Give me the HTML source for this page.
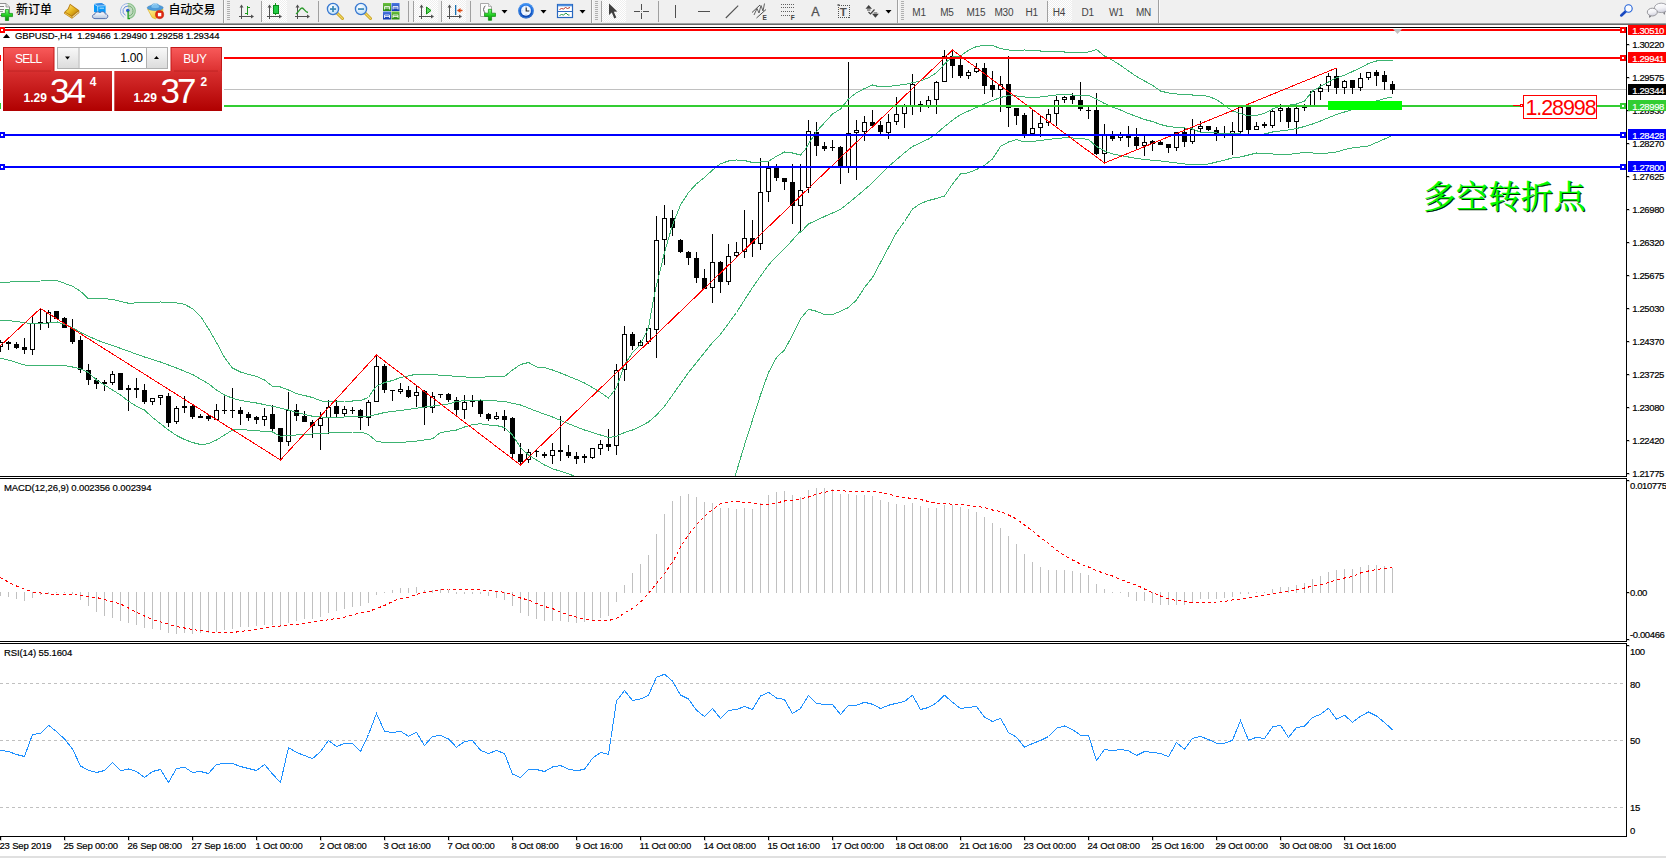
<!DOCTYPE html><html><head><meta charset="utf-8"><title>GBPUSD H4</title><style>

html,body{margin:0;padding:0;background:#fff}
body{width:1666px;height:858px;position:relative;overflow:hidden;font-family:"Liberation Sans","Noto Sans CJK SC",sans-serif}
#tb{position:absolute;left:0;top:0;width:1666px;height:23px;background:#f0f0f0}
#tb .b1{position:absolute;left:0;top:23px;width:1666px;height:1px;background:#a0a0a0}
#tb .b2{position:absolute;left:0;top:24px;width:1666px;height:1px;background:#696969}
.tt{position:absolute;top:2.6px;font-size:12px;line-height:15px;color:#000;white-space:nowrap;font-weight:500}
.tf{position:absolute;top:5.6px;font-size:10px;line-height:13px;color:#444;white-space:nowrap;letter-spacing:-0.25px}
.sep{position:absolute;top:1px;width:1px;height:21px;background:#a0a0a0}
.grip{position:absolute;top:2px;width:3px;height:19px;background:repeating-linear-gradient(#f0f0f0 0,#f0f0f0 1px,#b4b4b4 1px,#b4b4b4 2px)}
.pr{position:absolute;top:0;height:22px;background:#f8f8f8;background-image:repeating-conic-gradient(#fff 0 25%,#ececec 0 50%);background-size:2px 2px}
#oc{position:absolute;left:1px;top:33px;width:223px;height:79px;background:#fff}
#oc .ttl{position:absolute;left:14px;top:-3.7px;font-size:9.5px;line-height:14px;letter-spacing:-0.1px;color:#000;white-space:pre;-webkit-text-stroke:0.18px #000}
.rb{position:absolute;color:#fff}

</style></head><body>
<svg width="1666" height="858" viewBox="0 0 1666 858" style="position:absolute;left:0;top:0" font-family='"Liberation Sans", sans-serif'>
<defs><clipPath id="cm"><rect x="0" y="28" width="1626" height="448"/></clipPath><clipPath id="cmacd"><rect x="0" y="479" width="1626" height="162"/></clipPath><clipPath id="crsi"><rect x="0" y="644" width="1626" height="192"/></clipPath></defs>
<g shape-rendering="crispEdges" fill="#000">
<rect x="0" y="27" width="1627" height="1"/>
<rect x="1626" y="27" width="1" height="450"/>
<rect x="0" y="476" width="1627" height="1"/>
<rect x="0" y="478" width="1627" height="1"/>
<rect x="1626" y="478" width="1" height="164"/>
<rect x="0" y="641" width="1627" height="1"/>
<rect x="0" y="643" width="1627" height="1"/>
<rect x="1626" y="643" width="1" height="194"/>
<rect x="0" y="836" width="1627" height="1"/>
</g>
<rect x="0" y="89" width="1626" height="1" fill="#c0c0c0" shape-rendering="crispEdges"/>
<g clip-path="url(#cm)" shape-rendering="crispEdges">
<rect x="0" y="340" width="1" height="12" fill="#000"/>
<rect x="-2" y="342" width="5" height="5" fill="#000"/>
<rect x="-1" y="343" width="3" height="3" fill="#fff"/>
<rect x="8" y="341" width="1" height="9" fill="#000"/>
<rect x="6" y="342" width="5" height="2" fill="#000"/>
<rect x="16" y="342" width="1" height="7" fill="#000"/>
<rect x="14" y="344" width="5" height="4" fill="#000"/>
<rect x="24" y="338" width="1" height="16" fill="#000"/>
<rect x="22" y="347" width="5" height="3" fill="#000"/>
<rect x="32" y="315" width="1" height="40" fill="#000"/>
<rect x="30" y="323" width="5" height="27" fill="#000"/>
<rect x="31" y="324" width="3" height="25" fill="#fff"/>
<rect x="40" y="309" width="1" height="21" fill="#000"/>
<rect x="38" y="322" width="5" height="2" fill="#000"/>
<rect x="48" y="310" width="1" height="18" fill="#000"/>
<rect x="46" y="312" width="5" height="11" fill="#000"/>
<rect x="47" y="313" width="3" height="9" fill="#fff"/>
<rect x="56" y="311" width="1" height="8" fill="#000"/>
<rect x="54" y="311" width="5" height="8" fill="#000"/>
<rect x="64" y="317" width="1" height="11" fill="#000"/>
<rect x="62" y="318" width="5" height="10" fill="#000"/>
<rect x="72" y="319" width="1" height="25" fill="#000"/>
<rect x="70" y="328" width="5" height="14" fill="#000"/>
<rect x="80" y="336" width="1" height="37" fill="#000"/>
<rect x="78" y="340" width="5" height="30" fill="#000"/>
<rect x="88" y="364" width="1" height="21" fill="#000"/>
<rect x="86" y="370" width="5" height="10" fill="#000"/>
<rect x="96" y="378" width="1" height="11" fill="#000"/>
<rect x="94" y="380" width="5" height="4" fill="#000"/>
<rect x="104" y="380" width="1" height="11" fill="#000"/>
<rect x="102" y="382" width="5" height="2" fill="#000"/>
<rect x="112" y="371" width="1" height="14" fill="#000"/>
<rect x="110" y="374" width="5" height="9" fill="#000"/>
<rect x="111" y="375" width="3" height="7" fill="#fff"/>
<rect x="120" y="373" width="1" height="17" fill="#000"/>
<rect x="118" y="373" width="5" height="17" fill="#000"/>
<rect x="128" y="385" width="1" height="26" fill="#000"/>
<rect x="126" y="388" width="5" height="2" fill="#000"/>
<rect x="136" y="378" width="1" height="20" fill="#000"/>
<rect x="134" y="388" width="5" height="2" fill="#000"/>
<rect x="144" y="384" width="1" height="20" fill="#000"/>
<rect x="142" y="390" width="5" height="12" fill="#000"/>
<rect x="152" y="398" width="1" height="7" fill="#000"/>
<rect x="150" y="398" width="5" height="4" fill="#000"/>
<rect x="151" y="399" width="3" height="2" fill="#fff"/>
<rect x="160" y="395" width="1" height="10" fill="#000"/>
<rect x="158" y="395" width="5" height="3" fill="#000"/>
<rect x="159" y="396" width="3" height="1" fill="#fff"/>
<rect x="168" y="393" width="1" height="34" fill="#000"/>
<rect x="166" y="396" width="5" height="27" fill="#000"/>
<rect x="176" y="406" width="1" height="18" fill="#000"/>
<rect x="174" y="408" width="5" height="14" fill="#000"/>
<rect x="175" y="409" width="3" height="12" fill="#fff"/>
<rect x="184" y="396" width="1" height="17" fill="#000"/>
<rect x="182" y="406" width="5" height="2" fill="#000"/>
<rect x="192" y="404" width="1" height="15" fill="#000"/>
<rect x="190" y="406" width="5" height="11" fill="#000"/>
<rect x="200" y="414" width="1" height="4" fill="#000"/>
<rect x="198" y="416" width="5" height="2" fill="#000"/>
<rect x="208" y="415" width="1" height="6" fill="#000"/>
<rect x="206" y="416" width="5" height="3" fill="#000"/>
<rect x="216" y="404" width="1" height="16" fill="#000"/>
<rect x="214" y="410" width="5" height="10" fill="#000"/>
<rect x="215" y="411" width="3" height="8" fill="#fff"/>
<rect x="224" y="396" width="1" height="18" fill="#000"/>
<rect x="222" y="410" width="5" height="1" fill="#000"/>
<rect x="232" y="388" width="1" height="30" fill="#000"/>
<rect x="230" y="410" width="5" height="1" fill="#000"/>
<rect x="240" y="407" width="1" height="18" fill="#000"/>
<rect x="238" y="410" width="5" height="4" fill="#000"/>
<rect x="248" y="412" width="1" height="9" fill="#000"/>
<rect x="246" y="414" width="5" height="4" fill="#000"/>
<rect x="256" y="416" width="1" height="8" fill="#000"/>
<rect x="254" y="417" width="5" height="3" fill="#000"/>
<rect x="264" y="408" width="1" height="18" fill="#000"/>
<rect x="262" y="416" width="5" height="4" fill="#000"/>
<rect x="263" y="417" width="3" height="2" fill="#fff"/>
<rect x="272" y="405" width="1" height="27" fill="#000"/>
<rect x="270" y="414" width="5" height="15" fill="#000"/>
<rect x="280" y="428" width="1" height="32" fill="#000"/>
<rect x="278" y="428" width="5" height="14" fill="#000"/>
<rect x="288" y="392" width="1" height="54" fill="#000"/>
<rect x="286" y="410" width="5" height="32" fill="#000"/>
<rect x="287" y="411" width="3" height="30" fill="#fff"/>
<rect x="296" y="404" width="1" height="17" fill="#000"/>
<rect x="294" y="410" width="5" height="6" fill="#000"/>
<rect x="304" y="411" width="1" height="11" fill="#000"/>
<rect x="302" y="416" width="5" height="6" fill="#000"/>
<rect x="312" y="420" width="1" height="18" fill="#000"/>
<rect x="310" y="422" width="5" height="4" fill="#000"/>
<rect x="320" y="412" width="1" height="38" fill="#000"/>
<rect x="318" y="418" width="5" height="8" fill="#000"/>
<rect x="319" y="419" width="3" height="6" fill="#fff"/>
<rect x="328" y="400" width="1" height="34" fill="#000"/>
<rect x="326" y="407" width="5" height="11" fill="#000"/>
<rect x="327" y="408" width="3" height="9" fill="#fff"/>
<rect x="336" y="400" width="1" height="18" fill="#000"/>
<rect x="334" y="406" width="5" height="8" fill="#000"/>
<rect x="344" y="406" width="1" height="10" fill="#000"/>
<rect x="342" y="409" width="5" height="5" fill="#000"/>
<rect x="343" y="410" width="3" height="3" fill="#fff"/>
<rect x="352" y="407" width="1" height="7" fill="#000"/>
<rect x="350" y="410" width="5" height="1" fill="#000"/>
<rect x="360" y="409" width="1" height="21" fill="#000"/>
<rect x="358" y="410" width="5" height="8" fill="#000"/>
<rect x="368" y="400" width="1" height="26" fill="#000"/>
<rect x="366" y="402" width="5" height="16" fill="#000"/>
<rect x="367" y="403" width="3" height="14" fill="#fff"/>
<rect x="376" y="355" width="1" height="47" fill="#000"/>
<rect x="374" y="366" width="5" height="36" fill="#000"/>
<rect x="375" y="367" width="3" height="34" fill="#fff"/>
<rect x="384" y="364" width="1" height="29" fill="#000"/>
<rect x="382" y="366" width="5" height="24" fill="#000"/>
<rect x="392" y="390" width="1" height="11" fill="#000"/>
<rect x="390" y="390" width="5" height="1" fill="#000"/>
<rect x="400" y="383" width="1" height="11" fill="#000"/>
<rect x="398" y="389" width="5" height="3" fill="#000"/>
<rect x="399" y="390" width="3" height="1" fill="#fff"/>
<rect x="408" y="386" width="1" height="12" fill="#000"/>
<rect x="406" y="390" width="5" height="7" fill="#000"/>
<rect x="416" y="386" width="1" height="21" fill="#000"/>
<rect x="414" y="392" width="5" height="4" fill="#000"/>
<rect x="415" y="393" width="3" height="2" fill="#fff"/>
<rect x="424" y="390" width="1" height="35" fill="#000"/>
<rect x="422" y="391" width="5" height="17" fill="#000"/>
<rect x="432" y="392" width="1" height="21" fill="#000"/>
<rect x="430" y="396" width="5" height="12" fill="#000"/>
<rect x="431" y="397" width="3" height="10" fill="#fff"/>
<rect x="440" y="394" width="1" height="4" fill="#000"/>
<rect x="438" y="394" width="5" height="1" fill="#000"/>
<rect x="448" y="393" width="1" height="9" fill="#000"/>
<rect x="446" y="394" width="5" height="6" fill="#000"/>
<rect x="456" y="397" width="1" height="19" fill="#000"/>
<rect x="454" y="400" width="5" height="10" fill="#000"/>
<rect x="464" y="395" width="1" height="24" fill="#000"/>
<rect x="462" y="402" width="5" height="8" fill="#000"/>
<rect x="463" y="403" width="3" height="6" fill="#fff"/>
<rect x="472" y="395" width="1" height="12" fill="#000"/>
<rect x="470" y="400" width="5" height="2" fill="#000"/>
<rect x="480" y="400" width="1" height="17" fill="#000"/>
<rect x="478" y="401" width="5" height="13" fill="#000"/>
<rect x="488" y="413" width="1" height="8" fill="#000"/>
<rect x="486" y="414" width="5" height="5" fill="#000"/>
<rect x="496" y="412" width="1" height="8" fill="#000"/>
<rect x="494" y="416" width="5" height="3" fill="#000"/>
<rect x="495" y="417" width="3" height="1" fill="#fff"/>
<rect x="504" y="410" width="1" height="21" fill="#000"/>
<rect x="502" y="416" width="5" height="4" fill="#000"/>
<rect x="512" y="417" width="1" height="43" fill="#000"/>
<rect x="510" y="418" width="5" height="36" fill="#000"/>
<rect x="520" y="443" width="1" height="23" fill="#000"/>
<rect x="518" y="454" width="5" height="8" fill="#000"/>
<rect x="528" y="449" width="1" height="14" fill="#000"/>
<rect x="526" y="452" width="5" height="8" fill="#000"/>
<rect x="527" y="453" width="3" height="6" fill="#fff"/>
<rect x="536" y="450" width="1" height="7" fill="#000"/>
<rect x="534" y="451" width="5" height="1" fill="#000"/>
<rect x="544" y="452" width="1" height="6" fill="#000"/>
<rect x="542" y="454" width="5" height="2" fill="#000"/>
<rect x="552" y="443" width="1" height="21" fill="#000"/>
<rect x="550" y="450" width="5" height="6" fill="#000"/>
<rect x="551" y="451" width="3" height="4" fill="#fff"/>
<rect x="560" y="416" width="1" height="45" fill="#000"/>
<rect x="558" y="450" width="5" height="2" fill="#000"/>
<rect x="568" y="445" width="1" height="13" fill="#000"/>
<rect x="566" y="452" width="5" height="4" fill="#000"/>
<rect x="576" y="452" width="1" height="12" fill="#000"/>
<rect x="574" y="456" width="5" height="3" fill="#000"/>
<rect x="584" y="454" width="1" height="9" fill="#000"/>
<rect x="582" y="456" width="5" height="2" fill="#000"/>
<rect x="592" y="448" width="1" height="11" fill="#000"/>
<rect x="590" y="448" width="5" height="10" fill="#000"/>
<rect x="591" y="449" width="3" height="8" fill="#fff"/>
<rect x="600" y="440" width="1" height="15" fill="#000"/>
<rect x="598" y="444" width="5" height="5" fill="#000"/>
<rect x="599" y="445" width="3" height="3" fill="#fff"/>
<rect x="608" y="429" width="1" height="22" fill="#000"/>
<rect x="606" y="444" width="5" height="3" fill="#000"/>
<rect x="616" y="364" width="1" height="91" fill="#000"/>
<rect x="614" y="370" width="5" height="76" fill="#000"/>
<rect x="615" y="371" width="3" height="74" fill="#fff"/>
<rect x="624" y="326" width="1" height="55" fill="#000"/>
<rect x="622" y="334" width="5" height="36" fill="#000"/>
<rect x="623" y="335" width="3" height="34" fill="#fff"/>
<rect x="632" y="332" width="1" height="18" fill="#000"/>
<rect x="630" y="334" width="5" height="12" fill="#000"/>
<rect x="640" y="340" width="1" height="6" fill="#000"/>
<rect x="638" y="342" width="5" height="4" fill="#000"/>
<rect x="639" y="343" width="3" height="2" fill="#fff"/>
<rect x="648" y="328" width="1" height="16" fill="#000"/>
<rect x="646" y="328" width="5" height="14" fill="#000"/>
<rect x="647" y="329" width="3" height="12" fill="#fff"/>
<rect x="656" y="216" width="1" height="142" fill="#000"/>
<rect x="654" y="240" width="5" height="90" fill="#000"/>
<rect x="655" y="241" width="3" height="88" fill="#fff"/>
<rect x="664" y="205" width="1" height="60" fill="#000"/>
<rect x="662" y="218" width="5" height="22" fill="#000"/>
<rect x="663" y="219" width="3" height="20" fill="#fff"/>
<rect x="672" y="210" width="1" height="26" fill="#000"/>
<rect x="670" y="218" width="5" height="10" fill="#000"/>
<rect x="680" y="239" width="1" height="14" fill="#000"/>
<rect x="678" y="240" width="5" height="12" fill="#000"/>
<rect x="688" y="251" width="1" height="14" fill="#000"/>
<rect x="686" y="252" width="5" height="6" fill="#000"/>
<rect x="696" y="252" width="1" height="31" fill="#000"/>
<rect x="694" y="258" width="5" height="20" fill="#000"/>
<rect x="704" y="269" width="1" height="20" fill="#000"/>
<rect x="702" y="278" width="5" height="11" fill="#000"/>
<rect x="712" y="234" width="1" height="69" fill="#000"/>
<rect x="710" y="262" width="5" height="26" fill="#000"/>
<rect x="711" y="263" width="3" height="24" fill="#fff"/>
<rect x="720" y="261" width="1" height="32" fill="#000"/>
<rect x="718" y="262" width="5" height="20" fill="#000"/>
<rect x="728" y="244" width="1" height="41" fill="#000"/>
<rect x="726" y="256" width="5" height="26" fill="#000"/>
<rect x="727" y="257" width="3" height="24" fill="#fff"/>
<rect x="736" y="242" width="1" height="16" fill="#000"/>
<rect x="734" y="252" width="5" height="4" fill="#000"/>
<rect x="735" y="253" width="3" height="2" fill="#fff"/>
<rect x="744" y="210" width="1" height="48" fill="#000"/>
<rect x="742" y="238" width="5" height="14" fill="#000"/>
<rect x="743" y="239" width="3" height="12" fill="#fff"/>
<rect x="752" y="220" width="1" height="37" fill="#000"/>
<rect x="750" y="238" width="5" height="6" fill="#000"/>
<rect x="760" y="158" width="1" height="92" fill="#000"/>
<rect x="758" y="192" width="5" height="52" fill="#000"/>
<rect x="759" y="193" width="3" height="50" fill="#fff"/>
<rect x="768" y="162" width="1" height="40" fill="#000"/>
<rect x="766" y="168" width="5" height="24" fill="#000"/>
<rect x="767" y="169" width="3" height="22" fill="#fff"/>
<rect x="776" y="164" width="1" height="17" fill="#000"/>
<rect x="774" y="168" width="5" height="10" fill="#000"/>
<rect x="784" y="178" width="1" height="12" fill="#000"/>
<rect x="782" y="178" width="5" height="4" fill="#000"/>
<rect x="792" y="164" width="1" height="60" fill="#000"/>
<rect x="790" y="182" width="5" height="24" fill="#000"/>
<rect x="800" y="164" width="1" height="67" fill="#000"/>
<rect x="798" y="190" width="5" height="16" fill="#000"/>
<rect x="799" y="191" width="3" height="14" fill="#fff"/>
<rect x="808" y="120" width="1" height="73" fill="#000"/>
<rect x="806" y="131" width="5" height="57" fill="#000"/>
<rect x="807" y="132" width="3" height="55" fill="#fff"/>
<rect x="816" y="122" width="1" height="34" fill="#000"/>
<rect x="814" y="132" width="5" height="14" fill="#000"/>
<rect x="824" y="142" width="1" height="9" fill="#000"/>
<rect x="822" y="146" width="5" height="3" fill="#000"/>
<rect x="832" y="140" width="1" height="11" fill="#000"/>
<rect x="830" y="147" width="5" height="1" fill="#000"/>
<rect x="840" y="146" width="1" height="38" fill="#000"/>
<rect x="838" y="147" width="5" height="19" fill="#000"/>
<rect x="848" y="62" width="1" height="111" fill="#000"/>
<rect x="846" y="133" width="5" height="34" fill="#000"/>
<rect x="847" y="134" width="3" height="32" fill="#fff"/>
<rect x="856" y="120" width="1" height="60" fill="#000"/>
<rect x="854" y="130" width="5" height="3" fill="#000"/>
<rect x="855" y="131" width="3" height="1" fill="#fff"/>
<rect x="864" y="116" width="1" height="25" fill="#000"/>
<rect x="862" y="122" width="5" height="10" fill="#000"/>
<rect x="863" y="123" width="3" height="8" fill="#fff"/>
<rect x="872" y="110" width="1" height="16" fill="#000"/>
<rect x="870" y="122" width="5" height="4" fill="#000"/>
<rect x="880" y="121" width="1" height="15" fill="#000"/>
<rect x="878" y="125" width="5" height="7" fill="#000"/>
<rect x="888" y="114" width="1" height="25" fill="#000"/>
<rect x="886" y="122" width="5" height="11" fill="#000"/>
<rect x="887" y="123" width="3" height="9" fill="#fff"/>
<rect x="896" y="97" width="1" height="28" fill="#000"/>
<rect x="894" y="114" width="5" height="8" fill="#000"/>
<rect x="895" y="115" width="3" height="6" fill="#fff"/>
<rect x="904" y="104" width="1" height="24" fill="#000"/>
<rect x="902" y="106" width="5" height="8" fill="#000"/>
<rect x="903" y="107" width="3" height="6" fill="#fff"/>
<rect x="912" y="74" width="1" height="41" fill="#000"/>
<rect x="910" y="84" width="5" height="22" fill="#000"/>
<rect x="911" y="85" width="3" height="20" fill="#fff"/>
<rect x="920" y="101" width="1" height="11" fill="#000"/>
<rect x="918" y="104" width="5" height="1" fill="#000"/>
<rect x="928" y="96" width="1" height="12" fill="#000"/>
<rect x="926" y="100" width="5" height="6" fill="#000"/>
<rect x="927" y="101" width="3" height="4" fill="#fff"/>
<rect x="936" y="81" width="1" height="33" fill="#000"/>
<rect x="934" y="82" width="5" height="18" fill="#000"/>
<rect x="935" y="83" width="3" height="16" fill="#fff"/>
<rect x="944" y="50" width="1" height="32" fill="#000"/>
<rect x="942" y="56" width="5" height="26" fill="#000"/>
<rect x="943" y="57" width="3" height="24" fill="#fff"/>
<rect x="952" y="50" width="1" height="28" fill="#000"/>
<rect x="950" y="56" width="5" height="10" fill="#000"/>
<rect x="960" y="58" width="1" height="20" fill="#000"/>
<rect x="958" y="65" width="5" height="11" fill="#000"/>
<rect x="968" y="70" width="1" height="9" fill="#000"/>
<rect x="966" y="72" width="5" height="4" fill="#000"/>
<rect x="967" y="73" width="3" height="2" fill="#fff"/>
<rect x="976" y="63" width="1" height="10" fill="#000"/>
<rect x="974" y="68" width="5" height="4" fill="#000"/>
<rect x="975" y="69" width="3" height="2" fill="#fff"/>
<rect x="984" y="63" width="1" height="31" fill="#000"/>
<rect x="982" y="68" width="5" height="18" fill="#000"/>
<rect x="992" y="71" width="1" height="26" fill="#000"/>
<rect x="990" y="85" width="5" height="5" fill="#000"/>
<rect x="1000" y="76" width="1" height="36" fill="#000"/>
<rect x="998" y="84" width="5" height="6" fill="#000"/>
<rect x="999" y="85" width="3" height="4" fill="#fff"/>
<rect x="1008" y="56" width="1" height="71" fill="#000"/>
<rect x="1006" y="84" width="5" height="24" fill="#000"/>
<rect x="1016" y="108" width="1" height="17" fill="#000"/>
<rect x="1014" y="108" width="5" height="8" fill="#000"/>
<rect x="1024" y="113" width="1" height="25" fill="#000"/>
<rect x="1022" y="115" width="5" height="19" fill="#000"/>
<rect x="1032" y="110" width="1" height="25" fill="#000"/>
<rect x="1030" y="128" width="5" height="6" fill="#000"/>
<rect x="1031" y="129" width="3" height="4" fill="#fff"/>
<rect x="1040" y="116" width="1" height="21" fill="#000"/>
<rect x="1038" y="123" width="5" height="5" fill="#000"/>
<rect x="1039" y="124" width="3" height="3" fill="#fff"/>
<rect x="1048" y="109" width="1" height="17" fill="#000"/>
<rect x="1046" y="114" width="5" height="9" fill="#000"/>
<rect x="1047" y="115" width="3" height="7" fill="#fff"/>
<rect x="1056" y="96" width="1" height="30" fill="#000"/>
<rect x="1054" y="100" width="5" height="14" fill="#000"/>
<rect x="1055" y="101" width="3" height="12" fill="#fff"/>
<rect x="1064" y="96" width="1" height="7" fill="#000"/>
<rect x="1062" y="97" width="5" height="3" fill="#000"/>
<rect x="1063" y="98" width="3" height="1" fill="#fff"/>
<rect x="1072" y="93" width="1" height="11" fill="#000"/>
<rect x="1070" y="96" width="5" height="4" fill="#000"/>
<rect x="1080" y="82" width="1" height="29" fill="#000"/>
<rect x="1078" y="100" width="5" height="9" fill="#000"/>
<rect x="1088" y="107" width="1" height="12" fill="#000"/>
<rect x="1086" y="110" width="5" height="1" fill="#000"/>
<rect x="1096" y="93" width="1" height="62" fill="#000"/>
<rect x="1094" y="110" width="5" height="44" fill="#000"/>
<rect x="1104" y="124" width="1" height="40" fill="#000"/>
<rect x="1102" y="135" width="5" height="19" fill="#000"/>
<rect x="1103" y="136" width="3" height="17" fill="#fff"/>
<rect x="1112" y="131" width="1" height="10" fill="#000"/>
<rect x="1110" y="136" width="5" height="3" fill="#000"/>
<rect x="1120" y="132" width="1" height="9" fill="#000"/>
<rect x="1118" y="135" width="5" height="3" fill="#000"/>
<rect x="1119" y="136" width="3" height="1" fill="#fff"/>
<rect x="1128" y="126" width="1" height="21" fill="#000"/>
<rect x="1126" y="136" width="5" height="2" fill="#000"/>
<rect x="1136" y="128" width="1" height="22" fill="#000"/>
<rect x="1134" y="137" width="5" height="9" fill="#000"/>
<rect x="1144" y="136" width="1" height="20" fill="#000"/>
<rect x="1142" y="142" width="5" height="4" fill="#000"/>
<rect x="1143" y="143" width="3" height="2" fill="#fff"/>
<rect x="1152" y="140" width="1" height="11" fill="#000"/>
<rect x="1150" y="141" width="5" height="3" fill="#000"/>
<rect x="1160" y="140" width="1" height="5" fill="#000"/>
<rect x="1158" y="142" width="5" height="3" fill="#000"/>
<rect x="1168" y="144" width="1" height="9" fill="#000"/>
<rect x="1166" y="144" width="5" height="4" fill="#000"/>
<rect x="1176" y="132" width="1" height="19" fill="#000"/>
<rect x="1174" y="132" width="5" height="16" fill="#000"/>
<rect x="1175" y="133" width="3" height="14" fill="#fff"/>
<rect x="1184" y="128" width="1" height="19" fill="#000"/>
<rect x="1182" y="132" width="5" height="10" fill="#000"/>
<rect x="1192" y="119" width="1" height="25" fill="#000"/>
<rect x="1190" y="129" width="5" height="13" fill="#000"/>
<rect x="1191" y="130" width="3" height="11" fill="#fff"/>
<rect x="1200" y="121" width="1" height="11" fill="#000"/>
<rect x="1198" y="126" width="5" height="3" fill="#000"/>
<rect x="1199" y="127" width="3" height="1" fill="#fff"/>
<rect x="1208" y="126" width="1" height="5" fill="#000"/>
<rect x="1206" y="126" width="5" height="4" fill="#000"/>
<rect x="1216" y="127" width="1" height="14" fill="#000"/>
<rect x="1214" y="130" width="5" height="4" fill="#000"/>
<rect x="1224" y="126" width="1" height="12" fill="#000"/>
<rect x="1222" y="133" width="5" height="1" fill="#000"/>
<rect x="1232" y="122" width="1" height="33" fill="#000"/>
<rect x="1230" y="131" width="5" height="5" fill="#000"/>
<rect x="1231" y="132" width="3" height="3" fill="#fff"/>
<rect x="1240" y="106" width="1" height="28" fill="#000"/>
<rect x="1238" y="107" width="5" height="25" fill="#000"/>
<rect x="1239" y="108" width="3" height="23" fill="#fff"/>
<rect x="1248" y="106" width="1" height="30" fill="#000"/>
<rect x="1246" y="107" width="5" height="23" fill="#000"/>
<rect x="1256" y="122" width="1" height="8" fill="#000"/>
<rect x="1254" y="126" width="5" height="4" fill="#000"/>
<rect x="1255" y="127" width="3" height="2" fill="#fff"/>
<rect x="1264" y="122" width="1" height="6" fill="#000"/>
<rect x="1262" y="124" width="5" height="2" fill="#000"/>
<rect x="1272" y="109" width="1" height="19" fill="#000"/>
<rect x="1270" y="111" width="5" height="15" fill="#000"/>
<rect x="1271" y="112" width="3" height="13" fill="#fff"/>
<rect x="1280" y="104" width="1" height="18" fill="#000"/>
<rect x="1278" y="108" width="5" height="3" fill="#000"/>
<rect x="1279" y="109" width="3" height="1" fill="#fff"/>
<rect x="1288" y="106" width="1" height="22" fill="#000"/>
<rect x="1286" y="108" width="5" height="14" fill="#000"/>
<rect x="1296" y="104" width="1" height="30" fill="#000"/>
<rect x="1294" y="108" width="5" height="14" fill="#000"/>
<rect x="1295" y="109" width="3" height="12" fill="#fff"/>
<rect x="1304" y="104" width="1" height="7" fill="#000"/>
<rect x="1302" y="107" width="5" height="1" fill="#000"/>
<rect x="1312" y="90" width="1" height="16" fill="#000"/>
<rect x="1310" y="91" width="5" height="15" fill="#000"/>
<rect x="1311" y="92" width="3" height="13" fill="#fff"/>
<rect x="1320" y="84" width="1" height="16" fill="#000"/>
<rect x="1318" y="88" width="5" height="4" fill="#000"/>
<rect x="1319" y="89" width="3" height="2" fill="#fff"/>
<rect x="1328" y="73" width="1" height="19" fill="#000"/>
<rect x="1326" y="76" width="5" height="10" fill="#000"/>
<rect x="1327" y="77" width="3" height="8" fill="#fff"/>
<rect x="1336" y="68" width="1" height="26" fill="#000"/>
<rect x="1334" y="76" width="5" height="12" fill="#000"/>
<rect x="1344" y="80" width="1" height="14" fill="#000"/>
<rect x="1342" y="81" width="5" height="7" fill="#000"/>
<rect x="1343" y="82" width="3" height="5" fill="#fff"/>
<rect x="1352" y="80" width="1" height="14" fill="#000"/>
<rect x="1350" y="80" width="5" height="8" fill="#000"/>
<rect x="1360" y="73" width="1" height="18" fill="#000"/>
<rect x="1358" y="78" width="5" height="10" fill="#000"/>
<rect x="1359" y="79" width="3" height="8" fill="#fff"/>
<rect x="1368" y="72" width="1" height="8" fill="#000"/>
<rect x="1366" y="72" width="5" height="6" fill="#000"/>
<rect x="1367" y="73" width="3" height="4" fill="#fff"/>
<rect x="1376" y="70" width="1" height="16" fill="#000"/>
<rect x="1374" y="72" width="5" height="4" fill="#000"/>
<rect x="1384" y="71" width="1" height="19" fill="#000"/>
<rect x="1382" y="75" width="5" height="7" fill="#000"/>
<rect x="1392" y="81" width="1" height="13" fill="#000"/>
<rect x="1390" y="84" width="5" height="6" fill="#000"/>
</g>
<g clip-path="url(#cm)" fill="none" stroke="#3cb371" stroke-width="1" shape-rendering="crispEdges">
<polyline points="0.0,282.5 25.0,281.25 57.5,280.75 72.5,286.25 80.5,291.25 88.5,298.75 100.0,298.25 112.5,299.5 128.5,303.25 144.5,302.5 160.5,302.0 176.5,303.0 184.5,304.25 192.5,308.75 200.5,316.25 208.5,328.75 216.5,342.5 224.5,357.5 232.5,368.0 240.5,372.0 248.5,374.5 256.5,376.25 264.5,380.0 272.5,386.25 280.5,387.0 288.5,390.0 296.5,393.75 304.5,395.5 312.5,397.5 320.5,400.75 328.5,402.0 336.5,401.25 344.5,401.0 352.5,401.0 360.5,400.5 368.5,397.5 372.5,391.25 376.5,386.25 384.5,382.5 392.5,380.5 400.5,377.5 415.0,374.5 437.5,375.0 472.5,377.5 505.0,376.25 512.5,370.0 520.5,364.5 528.5,362.5 536.5,367.0 544.5,367.5 552.5,370.0 560.5,373.0 576.5,379.5 584.5,383.0 592.5,387.5 600.5,392.5 608.5,398.0 616.5,387.5 624.5,365.0 632.5,352.5 640.5,344.25 648.5,327.5 652.5,305.0 656.5,285.0 664.5,252.5 672.5,225.0 680.5,205.0 688.5,192.5 696.5,183.75 704.5,177.5 712.5,170.0 720.5,163.75 728.5,161.0 736.5,160.0 744.5,160.5 752.5,162.5 760.5,162.0 768.5,161.25 776.5,156.25 784.5,152.0 792.5,153.0 800.5,155.0 805.0,150.0 808.5,144.0 816.5,131.5 824.5,122.75 832.5,114.0 840.5,109.0 848.5,99.0 856.5,92.75 864.5,88.5 872.5,85.0 880.5,87.0 888.5,86.5 896.5,85.5 904.5,84.5 912.5,82.75 920.5,81.0 928.5,77.75 936.5,72.75 944.5,64.0 952.5,56.5 960.5,56.0 968.5,50.25 976.5,46.5 984.5,45.25 992.5,45.5 1000.5,48.5 1008.5,50.0 1016.5,50.5 1024.5,50.0 1032.5,50.5 1040.5,51.0 1048.5,51.0 1056.5,51.5 1064.5,52.0 1072.5,52.0 1080.5,52.5 1088.5,52.0 1096.5,49.5 1104.5,56.0 1112.5,60.25 1120.5,65.25 1128.5,71.0 1136.5,76.5 1144.5,81.0 1152.5,85.25 1160.5,91.0 1168.5,93.0 1176.5,94.0 1184.5,94.5 1192.5,95.0 1200.0,95.0 1208.5,96.5 1216.5,99.5 1224.5,105.25 1232.5,111.0 1240.5,113.5 1248.5,116.0 1256.5,115.25 1264.5,113.5 1272.5,109.0 1280.5,106.0 1288.5,105.25 1296.5,104.0 1304.5,101.0 1312.5,91.0 1320.5,86.5 1328.5,82.0 1336.5,77.75 1344.5,75.25 1352.5,71.5 1360.5,67.75 1368.5,63.5 1376.5,61.0 1384.5,60.5 1392.5,60.5"/>
<polyline points="0.0,320.0 15.0,321.25 32.5,323.75 48.5,323.0 57.5,322.0 64.5,324.5 72.5,327.5 80.5,332.5 88.5,336.25 100.0,341.25 112.5,345.5 128.5,351.25 144.5,357.0 160.5,362.0 176.5,368.0 192.5,374.5 208.5,383.75 216.5,390.0 224.5,395.0 232.5,398.25 240.5,400.5 256.5,403.0 272.5,406.25 288.5,410.0 296.5,412.5 312.5,416.25 328.5,417.5 344.5,417.0 360.5,416.75 368.5,416.25 376.5,414.5 384.5,412.5 400.5,410.5 425.0,407.0 450.0,403.75 456.5,401.25 480.5,400.0 504.5,401.5 520.5,405.0 536.5,411.25 552.5,417.0 568.5,423.75 584.5,430.0 600.5,435.0 608.5,437.5 616.5,436.25 624.5,432.5 632.5,430.0 640.5,426.25 648.5,422.0 656.5,415.0 664.5,406.25 672.5,395.0 680.5,383.75 688.5,372.5 696.5,362.5 704.5,352.5 712.5,342.5 720.5,334.25 736.5,312.5 752.5,287.5 768.5,265.0 776.5,256.25 784.5,248.75 792.5,240.0 800.0,231.5 800.5,232.5 808.5,224.0 824.5,216.5 840.5,209.5 856.5,196.5 872.5,182.75 888.5,166.5 904.5,152.75 912.5,146.5 928.5,139.0 936.5,133.5 944.5,126.5 952.5,120.25 960.5,114.5 968.5,111.0 976.5,107.5 984.5,104.0 992.5,100.5 1000.5,97.5 1008.5,95.5 1016.5,96.0 1024.5,97.0 1032.5,97.5 1040.5,97.0 1048.5,96.0 1056.5,95.0 1064.5,94.5 1072.5,95.0 1080.5,95.25 1088.5,95.5 1096.5,99.0 1104.5,103.5 1112.5,107.0 1120.5,110.0 1128.5,113.5 1136.5,116.5 1144.5,119.5 1152.5,121.5 1160.5,124.5 1168.5,126.5 1176.5,127.5 1184.5,128.0 1192.5,129.0 1200.0,132.0 1208.5,132.5 1216.5,133.0 1224.5,133.5 1232.5,133.5 1240.5,134.0 1264.5,134.0 1272.5,132.0 1280.5,131.0 1288.5,130.0 1296.5,128.5 1304.5,126.5 1312.5,124.0 1320.5,121.0 1328.5,117.75 1336.5,114.5 1344.5,112.0 1352.5,109.5 1360.5,106.5 1368.5,103.5 1376.5,101.0 1384.5,98.5 1392.5,97.0"/>
<polyline points="0.0,358.0 12.5,361.25 24.5,365.0 50.0,365.5 64.5,365.5 72.5,367.0 80.5,368.75 88.5,372.5 96.5,380.0 104.5,385.0 112.5,390.0 120.5,395.0 128.5,401.25 136.5,406.25 144.5,410.0 152.5,417.5 160.5,423.75 168.5,430.0 176.5,435.5 184.5,439.5 192.5,442.5 200.5,444.5 208.5,443.75 216.5,440.0 224.5,435.0 232.5,430.0 240.5,429.5 256.5,430.75 272.5,432.0 280.5,436.25 288.5,435.5 304.5,434.5 320.5,433.5 336.5,432.5 352.5,432.0 360.5,432.0 368.5,434.5 376.5,441.25 384.5,442.5 400.5,442.5 415.0,441.25 432.5,438.75 440.5,432.5 456.5,430.0 464.5,427.0 472.5,424.5 480.5,423.75 488.5,425.0 496.5,425.5 504.5,427.5 512.5,435.0 520.5,447.5 528.5,455.0 536.5,460.0 544.5,465.0 552.5,468.75 560.5,471.25 568.5,473.75 575.0,476.5"/>
<polyline points="735.0,476.5 744.5,445.0 752.5,420.0 760.5,395.0 768.5,372.5 776.5,357.5 784.5,350.0 792.5,335.0 800.5,318.75 808.5,309.25 816.5,311.25 824.5,314.5 832.5,314.5 840.5,311.25 848.5,307.5 856.5,300.0 864.5,287.5 872.5,277.5 880.5,262.5 888.5,247.5 896.5,232.5 904.5,221.5 912.5,209.0 920.5,203.5 928.5,200.5 936.5,198.5 944.5,196.0 952.5,184.0 960.5,174.0 968.5,172.75 976.5,169.5 984.5,165.25 992.5,159.0 1000.5,146.5 1008.5,142.0 1016.5,139.5 1024.5,142.0 1032.5,141.5 1040.5,140.5 1048.5,139.5 1056.5,138.5 1064.5,137.75 1072.5,138.0 1080.5,138.5 1088.5,139.5 1096.5,146.5 1104.5,151.0 1112.5,154.0 1120.5,155.5 1128.5,157.0 1136.5,158.5 1144.5,159.5 1152.5,160.25 1160.5,161.0 1168.5,162.0 1176.5,163.0 1184.5,164.0 1192.5,164.5 1200.0,164.75 1208.5,164.0 1216.5,162.0 1224.5,160.25 1232.5,157.75 1240.5,157.0 1248.5,155.0 1256.5,153.0 1264.5,153.5 1272.5,154.0 1280.5,155.0 1288.5,154.5 1296.5,153.5 1304.5,152.5 1312.5,153.0 1320.5,153.5 1328.5,153.0 1336.5,152.0 1344.5,149.5 1352.5,148.0 1360.5,147.0 1368.5,146.0 1376.5,142.5 1384.5,139.0 1392.5,135.5"/>
</g>
<polyline clip-path="url(#cm)" fill="none" stroke="#ff0000" stroke-width="1" shape-rendering="crispEdges" points="-7.5,353 40.5,308.5 280.5,460 376.5,355 520.5,465 952.5,50 1104.5,163 1336.5,68"/>
<g shape-rendering="crispEdges">
<rect x="0" y="29" width="1626" height="2" fill="#ff0000"/>
<rect x="0" y="57" width="1626" height="2" fill="#ff0000"/>
<rect x="0" y="105" width="1626" height="2" fill="#32cd32"/>
<rect x="0" y="134" width="1626" height="2" fill="#0000ff"/>
<rect x="0" y="166" width="1626" height="2" fill="#0000ff"/>
<rect x="1328" y="101" width="74" height="9" fill="#00ff00"/>
<rect x="1620" y="27" width="6" height="6" fill="#ff0000"/><rect x="1622" y="29" width="2" height="2" fill="#fff"/>
<rect x="-1" y="27" width="6" height="6" fill="#ff0000"/><rect x="1" y="29" width="2" height="2" fill="#fff"/>
<rect x="1620" y="55" width="6" height="6" fill="#ff0000"/><rect x="1622" y="57" width="2" height="2" fill="#fff"/>
<rect x="-1" y="55" width="6" height="6" fill="#ff0000"/><rect x="1" y="57" width="2" height="2" fill="#fff"/>
<rect x="1620" y="103" width="6" height="6" fill="#32cd32"/><rect x="1622" y="105" width="2" height="2" fill="#fff"/>
<rect x="-1" y="103" width="6" height="6" fill="#32cd32"/><rect x="1" y="105" width="2" height="2" fill="#fff"/>
<rect x="1620" y="132" width="6" height="6" fill="#0000ff"/><rect x="1622" y="134" width="2" height="2" fill="#fff"/>
<rect x="-1" y="132" width="6" height="6" fill="#0000ff"/><rect x="1" y="134" width="2" height="2" fill="#fff"/>
<rect x="1620" y="164" width="6" height="6" fill="#0000ff"/><rect x="1622" y="166" width="2" height="2" fill="#fff"/>
<rect x="-1" y="164" width="6" height="6" fill="#0000ff"/><rect x="1" y="166" width="2" height="2" fill="#fff"/>
</g>
<polygon points="1393,29 1402,29 1397.5,34" fill="#c0c0c0"/>
<g fill="#000" font-size="9.5" letter-spacing="-0.38" stroke="#000" stroke-width="0.18">
<rect x="1627" y="44" width="2" height="1" shape-rendering="crispEdges"/><text x="1632.3" y="48">1.30220</text>
<rect x="1627" y="77" width="2" height="1" shape-rendering="crispEdges"/><text x="1632.3" y="81">1.29575</text>
<rect x="1627" y="110" width="2" height="1" shape-rendering="crispEdges"/><text x="1632.3" y="114">1.28930</text>
<rect x="1627" y="143" width="2" height="1" shape-rendering="crispEdges"/><text x="1632.3" y="147">1.28270</text>
<rect x="1627" y="176" width="2" height="1" shape-rendering="crispEdges"/><text x="1632.3" y="180">1.27625</text>
<rect x="1627" y="209" width="2" height="1" shape-rendering="crispEdges"/><text x="1632.3" y="213">1.26980</text>
<rect x="1627" y="242" width="2" height="1" shape-rendering="crispEdges"/><text x="1632.3" y="246">1.26320</text>
<rect x="1627" y="275" width="2" height="1" shape-rendering="crispEdges"/><text x="1632.3" y="279">1.25675</text>
<rect x="1627" y="308" width="2" height="1" shape-rendering="crispEdges"/><text x="1632.3" y="312">1.25030</text>
<rect x="1627" y="341" width="2" height="1" shape-rendering="crispEdges"/><text x="1632.3" y="345">1.24370</text>
<rect x="1627" y="374" width="2" height="1" shape-rendering="crispEdges"/><text x="1632.3" y="378">1.23725</text>
<rect x="1627" y="407" width="2" height="1" shape-rendering="crispEdges"/><text x="1632.3" y="411">1.23080</text>
<rect x="1627" y="440" width="2" height="1" shape-rendering="crispEdges"/><text x="1632.3" y="444">1.22420</text>
<rect x="1627" y="473" width="2" height="1" shape-rendering="crispEdges"/><text x="1632.3" y="477">1.21775</text>
<rect x="1627" y="480" width="2" height="1" shape-rendering="crispEdges"/><text x="1630" y="489">0.010775</text>
<rect x="1627" y="592" width="2" height="1" shape-rendering="crispEdges"/><text x="1630" y="596">0.00</text>
<rect x="1627" y="639" width="2" height="1" shape-rendering="crispEdges"/><text x="1630" y="638">-0.00466</text>
<text x="1630" y="654.6">100</text>
<text x="1630" y="687.6">80</text>
<text x="1630" y="743.6">50</text>
<text x="1630" y="810.6">15</text>
<text x="1630" y="833.6">0</text>
<rect x="1627" y="645" width="2" height="1" shape-rendering="crispEdges"/>
</g>
<rect x="1628" y="25" width="38" height="10" fill="#ff0000" shape-rendering="crispEdges"/>
<text x="1632.3" y="34" fill="#fff" font-size="9.5" letter-spacing="-0.38" stroke="#fff" stroke-width="0.18">1.30510</text>
<rect x="1628" y="52" width="38" height="11" fill="#ff0000" shape-rendering="crispEdges"/>
<text x="1632.3" y="62" fill="#fff" font-size="9.5" letter-spacing="-0.38" stroke="#fff" stroke-width="0.18">1.29941</text>
<rect x="1628" y="84" width="38" height="11" fill="#000000" shape-rendering="crispEdges"/>
<text x="1632.3" y="94" fill="#fff" font-size="9.5" letter-spacing="-0.38" stroke="#fff" stroke-width="0.18">1.29344</text>
<rect x="1628" y="100" width="38" height="11" fill="#32cd32" shape-rendering="crispEdges"/>
<text x="1632.3" y="110" fill="#fff" font-size="9.5" letter-spacing="-0.38" stroke="#fff" stroke-width="0.18">1.28998</text>
<rect x="1628" y="129" width="38" height="11" fill="#0000ff" shape-rendering="crispEdges"/>
<text x="1632.3" y="139" fill="#fff" font-size="9.5" letter-spacing="-0.38" stroke="#fff" stroke-width="0.18">1.28428</text>
<rect x="1628" y="161" width="38" height="11" fill="#0000ff" shape-rendering="crispEdges"/>
<text x="1632.3" y="171" fill="#fff" font-size="9.5" letter-spacing="-0.38" stroke="#fff" stroke-width="0.18">1.27800</text>
<g shape-rendering="crispEdges"><rect x="1513" y="105" width="10" height="1" fill="#ff0000"/><rect x="1520" y="104" width="3" height="3" fill="#ff0000"/><rect x="1521" y="105" width="1" height="1" fill="#fff"/>
<rect x="1523.5" y="95.5" width="73" height="23" fill="#fff" stroke="#ff0000" stroke-width="1"/></g>
<text x="1525.5" y="114.8" font-size="21.5" fill="#ff0000" letter-spacing="-1.1">1.28998</text>
<text x="1424.5" y="209" font-family='"Liberation Serif","Noto Serif CJK SC",serif' font-weight="400" font-size="32" fill="#002400" stroke="#002400" stroke-width="0.3" letter-spacing="0.5">多空转折点</text>
<text x="1423.5" y="208" font-family='"Liberation Serif","Noto Serif CJK SC",serif' font-weight="400" font-size="32" fill="#00ff00" stroke="#00ff00" stroke-width="0.3" letter-spacing="0.5">多空转折点</text>
<g clip-path="url(#cmacd)">
<g shape-rendering="crispEdges" fill="#c0c0c0">
<rect x="0" y="592" width="1" height="4"/>
<rect x="8" y="592" width="1" height="5"/>
<rect x="16" y="592" width="1" height="7"/>
<rect x="24" y="592" width="1" height="9"/>
<rect x="32" y="592" width="1" height="6"/>
<rect x="40" y="592" width="1" height="3"/>
<rect x="48" y="592" width="1" height="2"/>
<rect x="56" y="592" width="1" height="1"/>
<rect x="64" y="592" width="1" height="1"/>
<rect x="72" y="592" width="1" height="2"/>
<rect x="80" y="592" width="1" height="8"/>
<rect x="88" y="592" width="1" height="14"/>
<rect x="96" y="592" width="1" height="20"/>
<rect x="104" y="592" width="1" height="24"/>
<rect x="112" y="592" width="1" height="26"/>
<rect x="120" y="592" width="1" height="29"/>
<rect x="128" y="592" width="1" height="31"/>
<rect x="136" y="592" width="1" height="33"/>
<rect x="144" y="592" width="1" height="36"/>
<rect x="152" y="592" width="1" height="37"/>
<rect x="160" y="592" width="1" height="38"/>
<rect x="168" y="592" width="1" height="41"/>
<rect x="176" y="592" width="1" height="42"/>
<rect x="184" y="592" width="1" height="41"/>
<rect x="192" y="592" width="1" height="42"/>
<rect x="200" y="592" width="1" height="41"/>
<rect x="208" y="592" width="1" height="41"/>
<rect x="216" y="592" width="1" height="40"/>
<rect x="224" y="592" width="1" height="38"/>
<rect x="232" y="592" width="1" height="37"/>
<rect x="240" y="592" width="1" height="35"/>
<rect x="248" y="592" width="1" height="35"/>
<rect x="256" y="592" width="1" height="34"/>
<rect x="264" y="592" width="1" height="33"/>
<rect x="272" y="592" width="1" height="33"/>
<rect x="280" y="592" width="1" height="35"/>
<rect x="288" y="592" width="1" height="31"/>
<rect x="296" y="592" width="1" height="29"/>
<rect x="304" y="592" width="1" height="27"/>
<rect x="312" y="592" width="1" height="27"/>
<rect x="320" y="592" width="1" height="25"/>
<rect x="328" y="592" width="1" height="21"/>
<rect x="336" y="592" width="1" height="19"/>
<rect x="344" y="592" width="1" height="17"/>
<rect x="352" y="592" width="1" height="15"/>
<rect x="360" y="592" width="1" height="14"/>
<rect x="368" y="592" width="1" height="11"/>
<rect x="376" y="592" width="1" height="3"/>
<rect x="384" y="592" width="1" height="1"/>
<rect x="392" y="590" width="1" height="3"/>
<rect x="400" y="588" width="1" height="5"/>
<rect x="408" y="588" width="1" height="5"/>
<rect x="416" y="587" width="1" height="6"/>
<rect x="424" y="590" width="1" height="3"/>
<rect x="432" y="590" width="1" height="3"/>
<rect x="440" y="589" width="1" height="4"/>
<rect x="448" y="590" width="1" height="3"/>
<rect x="456" y="592" width="1" height="2"/>
<rect x="464" y="592" width="1" height="2"/>
<rect x="472" y="592" width="1" height="2"/>
<rect x="480" y="592" width="1" height="2"/>
<rect x="488" y="592" width="1" height="4"/>
<rect x="496" y="592" width="1" height="6"/>
<rect x="504" y="592" width="1" height="8"/>
<rect x="512" y="592" width="1" height="14"/>
<rect x="520" y="592" width="1" height="21"/>
<rect x="528" y="592" width="1" height="24"/>
<rect x="536" y="592" width="1" height="27"/>
<rect x="544" y="592" width="1" height="29"/>
<rect x="552" y="592" width="1" height="29"/>
<rect x="560" y="592" width="1" height="29"/>
<rect x="568" y="592" width="1" height="30"/>
<rect x="576" y="592" width="1" height="31"/>
<rect x="584" y="592" width="1" height="30"/>
<rect x="592" y="592" width="1" height="29"/>
<rect x="600" y="592" width="1" height="26"/>
<rect x="608" y="592" width="1" height="24"/>
<rect x="616" y="592" width="1" height="10"/>
<rect x="624" y="585" width="1" height="8"/>
<rect x="632" y="573" width="1" height="20"/>
<rect x="640" y="564" width="1" height="29"/>
<rect x="648" y="555" width="1" height="38"/>
<rect x="656" y="534" width="1" height="59"/>
<rect x="664" y="514" width="1" height="79"/>
<rect x="672" y="501" width="1" height="92"/>
<rect x="680" y="496" width="1" height="97"/>
<rect x="688" y="494" width="1" height="99"/>
<rect x="696" y="497" width="1" height="96"/>
<rect x="704" y="502" width="1" height="91"/>
<rect x="712" y="503" width="1" height="90"/>
<rect x="720" y="508" width="1" height="85"/>
<rect x="728" y="508" width="1" height="85"/>
<rect x="736" y="509" width="1" height="84"/>
<rect x="744" y="508" width="1" height="85"/>
<rect x="752" y="509" width="1" height="84"/>
<rect x="760" y="503" width="1" height="90"/>
<rect x="768" y="495" width="1" height="98"/>
<rect x="776" y="492" width="1" height="101"/>
<rect x="784" y="491" width="1" height="102"/>
<rect x="792" y="495" width="1" height="98"/>
<rect x="800" y="497" width="1" height="96"/>
<rect x="808" y="490" width="1" height="103"/>
<rect x="816" y="488" width="1" height="105"/>
<rect x="824" y="488" width="1" height="105"/>
<rect x="832" y="489" width="1" height="104"/>
<rect x="840" y="494" width="1" height="99"/>
<rect x="848" y="494" width="1" height="99"/>
<rect x="856" y="495" width="1" height="98"/>
<rect x="864" y="495" width="1" height="98"/>
<rect x="872" y="496" width="1" height="97"/>
<rect x="880" y="500" width="1" height="93"/>
<rect x="888" y="502" width="1" height="91"/>
<rect x="896" y="504" width="1" height="89"/>
<rect x="904" y="505" width="1" height="88"/>
<rect x="912" y="503" width="1" height="90"/>
<rect x="920" y="506" width="1" height="87"/>
<rect x="928" y="508" width="1" height="85"/>
<rect x="936" y="508" width="1" height="85"/>
<rect x="944" y="505" width="1" height="88"/>
<rect x="952" y="505" width="1" height="88"/>
<rect x="960" y="507" width="1" height="86"/>
<rect x="968" y="509" width="1" height="84"/>
<rect x="976" y="512" width="1" height="81"/>
<rect x="984" y="517" width="1" height="76"/>
<rect x="992" y="523" width="1" height="70"/>
<rect x="1000" y="528" width="1" height="65"/>
<rect x="1008" y="536" width="1" height="57"/>
<rect x="1016" y="544" width="1" height="49"/>
<rect x="1024" y="554" width="1" height="39"/>
<rect x="1032" y="562" width="1" height="31"/>
<rect x="1040" y="567" width="1" height="26"/>
<rect x="1048" y="570" width="1" height="23"/>
<rect x="1056" y="570" width="1" height="23"/>
<rect x="1064" y="570" width="1" height="23"/>
<rect x="1072" y="571" width="1" height="22"/>
<rect x="1080" y="573" width="1" height="20"/>
<rect x="1088" y="575" width="1" height="18"/>
<rect x="1096" y="584" width="1" height="9"/>
<rect x="1104" y="589" width="1" height="4"/>
<rect x="1112" y="592" width="1" height="1"/>
<rect x="1120" y="592" width="1" height="1"/>
<rect x="1128" y="592" width="1" height="5"/>
<rect x="1136" y="592" width="1" height="9"/>
<rect x="1144" y="592" width="1" height="9"/>
<rect x="1152" y="592" width="1" height="11"/>
<rect x="1160" y="592" width="1" height="13"/>
<rect x="1168" y="592" width="1" height="13"/>
<rect x="1176" y="592" width="1" height="13"/>
<rect x="1184" y="592" width="1" height="13"/>
<rect x="1192" y="592" width="1" height="10"/>
<rect x="1200" y="592" width="1" height="7"/>
<rect x="1208" y="592" width="1" height="7"/>
<rect x="1216" y="592" width="1" height="7"/>
<rect x="1224" y="592" width="1" height="6"/>
<rect x="1232" y="592" width="1" height="5"/>
<rect x="1240" y="592" width="1" height="2"/>
<rect x="1248" y="592" width="1" height="2"/>
<rect x="1256" y="592" width="1" height="1"/>
<rect x="1264" y="592" width="1" height="1"/>
<rect x="1272" y="589" width="1" height="4"/>
<rect x="1280" y="587" width="1" height="6"/>
<rect x="1288" y="587" width="1" height="6"/>
<rect x="1296" y="585" width="1" height="8"/>
<rect x="1304" y="583" width="1" height="10"/>
<rect x="1312" y="579" width="1" height="14"/>
<rect x="1320" y="576" width="1" height="17"/>
<rect x="1328" y="572" width="1" height="21"/>
<rect x="1336" y="570" width="1" height="23"/>
<rect x="1344" y="569" width="1" height="24"/>
<rect x="1352" y="569" width="1" height="24"/>
<rect x="1360" y="567" width="1" height="26"/>
<rect x="1368" y="565" width="1" height="28"/>
<rect x="1376" y="565" width="1" height="28"/>
<rect x="1384" y="566" width="1" height="27"/>
<rect x="1392" y="568" width="1" height="25"/>
</g>
<polyline fill="none" stroke="#ff0000" stroke-width="1" stroke-dasharray="3,3" shape-rendering="crispEdges" points="0.0,577.25 8.5,582.25 16.5,586.0 24.5,589.0 32.5,592.0 40.5,593.0 48.5,594.0 56.5,595.0 64.5,594.5 72.5,594.5 80.5,595.5 88.5,596.75 96.5,597.5 104.5,599.5 112.5,601.75 120.5,604.0 128.5,608.0 136.5,612.25 144.5,616.0 152.5,619.75 160.5,621.75 168.5,624.25 176.5,626.5 184.5,628.0 192.5,629.5 200.5,630.75 208.5,631.75 216.5,632.5 224.5,632.5 232.5,632.5 240.5,631.5 248.5,630.5 256.5,629.25 264.5,628.0 272.5,627.0 280.5,626.0 288.5,625.25 296.5,624.25 304.5,623.5 312.5,622.0 320.5,621.0 328.5,619.75 336.5,618.5 344.5,617.25 352.5,614.75 360.5,613.0 368.5,611.5 376.5,608.5 384.5,605.5 392.5,601.5 400.0,598.5 408.5,597.25 416.5,594.5 424.5,592.25 432.5,591.0 440.5,589.75 448.5,589.0 456.5,589.0 464.5,589.0 472.5,589.0 480.5,589.75 488.5,590.5 496.5,591.5 504.5,592.25 512.5,594.75 520.5,598.0 528.5,600.0 536.5,603.5 544.5,606.5 552.5,608.5 560.5,612.25 568.5,614.75 576.5,617.25 584.5,619.0 592.5,620.5 600.5,620.5 608.5,620.5 616.5,618.5 624.5,613.0 632.5,608.5 640.5,602.25 648.5,593.5 656.5,583.5 664.5,573.5 672.5,562.25 680.5,547.25 688.5,534.75 696.5,524.75 704.5,516.0 712.5,509.75 720.5,503.5 728.5,502.25 736.5,501.5 744.5,502.25 752.5,503.0 760.5,504.25 768.5,504.25 776.5,503.0 784.5,501.0 792.5,500.5 800.0,499.0 808.5,497.0 816.5,494.0 824.5,492.25 832.5,490.5 840.5,490.5 848.5,491.5 856.5,491.5 864.5,491.5 872.5,491.5 880.5,492.5 888.5,494.0 896.5,496.5 904.5,497.5 912.5,498.5 920.5,499.5 928.5,501.5 936.5,503.0 944.5,503.5 952.5,504.25 960.5,504.5 968.5,505.5 976.5,506.5 984.5,507.5 992.5,510.0 1000.5,511.5 1008.5,515.0 1016.5,519.0 1024.5,525.0 1032.5,531.0 1040.5,537.5 1048.5,543.5 1056.5,550.0 1064.5,555.5 1072.5,560.0 1080.5,564.0 1088.5,567.0 1096.5,570.5 1104.5,573.5 1112.5,576.0 1120.5,579.5 1128.5,582.5 1136.5,585.0 1144.5,589.0 1152.5,592.5 1160.5,596.0 1168.5,599.0 1176.5,600.5 1184.5,601.5 1192.5,602.5 1200.0,602.5 1208.5,602.5 1216.5,602.5 1224.5,601.5 1232.5,600.0 1240.5,599.0 1248.5,597.5 1256.5,596.5 1264.5,595.0 1272.5,594.0 1280.5,592.5 1288.5,591.5 1296.5,589.75 1304.5,588.0 1312.5,586.0 1320.5,585.0 1328.5,582.5 1336.5,580.0 1344.5,578.0 1352.5,576.5 1360.5,573.0 1368.5,571.0 1376.5,569.5 1384.5,568.5 1392.5,567.5"/>
</g>
<text x="4" y="490.5" fill="#000" font-size="9.5" letter-spacing="-0.1" stroke="#000" stroke-width="0.18">MACD(12,26,9) 0.002356 0.002394</text>
<g shape-rendering="crispEdges" stroke="#c0c0c0" stroke-width="1" stroke-dasharray="3,3">
<line x1="0" y1="683.5" x2="1626" y2="683.5"/>
<line x1="0" y1="740.5" x2="1626" y2="740.5"/>
<line x1="0" y1="807.5" x2="1626" y2="807.5"/>
</g>
<polyline clip-path="url(#crsi)" fill="none" stroke="#1e90ff" stroke-width="1" shape-rendering="crispEdges" points="0.5,750.5 8.5,751.5 16.5,754.5 24.5,756.5 32.5,734.5 40.5,733.25 48.5,725.25 56.5,731.5 64.5,739.0 72.5,749.0 80.5,766.0 88.5,770.25 96.5,772.5 104.5,770.5 112.5,762.5 120.5,770.75 128.5,769.0 136.5,771.5 144.5,777.5 152.5,771.5 160.5,769.5 168.5,782.5 176.5,768.5 184.5,767.25 192.5,772.5 200.5,771.5 208.5,773.5 216.5,764.5 224.5,763.5 232.5,763.5 240.5,766.5 248.5,768.5 256.5,770.5 264.5,764.5 272.5,774.0 280.5,782.5 288.5,747.5 296.5,752.5 304.5,755.5 312.5,758.75 320.5,751.5 328.5,740.5 336.5,746.5 344.5,743.5 352.5,743.5 360.5,751.5 368.5,734.5 376.5,713.5 384.5,731.25 392.5,732.5 400.5,731.25 408.5,736.25 416.5,732.25 424.5,745.5 432.5,736.5 440.5,735.25 448.5,739.0 456.5,747.25 464.5,741.5 472.5,740.5 480.5,750.25 488.5,753.5 496.5,750.5 504.5,753.5 512.5,774.0 520.5,777.75 528.5,769.5 536.5,769.5 544.5,771.5 552.5,767.0 560.5,765.5 568.5,769.25 576.5,770.75 584.5,769.25 592.5,758.25 600.5,752.5 608.5,754.25 616.5,701.0 624.5,690.5 632.5,700.5 640.5,699.0 648.5,695.25 656.5,677.25 664.5,674.25 672.5,681.0 680.5,695.0 688.5,699.0 696.5,710.25 704.5,716.5 712.5,708.5 720.5,718.5 728.5,710.5 736.5,709.5 744.5,706.5 752.5,709.5 760.5,696.0 768.5,692.25 776.5,698.0 784.5,699.5 792.5,713.5 800.5,708.5 808.5,695.25 816.5,703.25 824.5,704.5 832.5,704.5 840.5,714.5 848.5,705.25 856.5,705.25 864.5,702.25 872.5,704.25 880.5,708.5 888.5,705.25 896.5,703.25 904.5,701.5 912.5,695.25 920.5,709.5 928.5,707.5 936.5,702.75 944.5,695.25 952.5,702.25 960.5,708.5 968.5,707.5 976.5,706.5 984.5,717.25 992.5,721.5 1000.5,718.25 1008.5,732.5 1016.5,737.25 1024.5,747.25 1032.5,743.5 1040.5,740.5 1048.5,736.5 1056.5,728.25 1064.5,726.0 1072.5,729.5 1080.5,735.25 1088.5,735.5 1096.5,760.5 1104.5,749.5 1112.5,750.75 1120.5,749.5 1128.5,750.75 1136.5,755.5 1144.5,751.5 1152.5,752.5 1160.5,753.5 1168.5,756.75 1176.5,742.5 1184.5,749.25 1192.5,738.25 1200.5,736.5 1208.5,739.5 1216.5,743.25 1224.5,743.25 1232.5,740.25 1240.5,720.5 1248.5,740.25 1256.5,737.25 1264.5,738.5 1272.5,727.0 1280.5,725.25 1288.5,737.5 1296.5,727.5 1304.5,726.25 1312.5,717.5 1320.5,714.25 1328.5,708.25 1336.5,719.25 1344.5,715.25 1352.5,722.25 1360.5,716.25 1368.5,712.0 1376.5,716.0 1384.5,722.5 1392.5,729.75"/>
<text x="4" y="655.5" fill="#000" font-size="9.5" letter-spacing="-0.1" stroke="#000" stroke-width="0.18">RSI(14) 55.1604</text>
<g fill="#000" font-size="9.5" letter-spacing="-0.1" stroke="#000" stroke-width="0.18">
<rect x="0" y="837" width="1" height="3" shape-rendering="crispEdges"/><text x="-0.5" y="849" letter-spacing="-0.18">23 Sep 2019</text>
<rect x="64" y="837" width="1" height="3" shape-rendering="crispEdges"/><text x="63.5" y="849" letter-spacing="-0.18">25 Sep 00:00</text>
<rect x="128" y="837" width="1" height="3" shape-rendering="crispEdges"/><text x="127.5" y="849" letter-spacing="-0.18">26 Sep 08:00</text>
<rect x="192" y="837" width="1" height="3" shape-rendering="crispEdges"/><text x="191.5" y="849" letter-spacing="-0.18">27 Sep 16:00</text>
<rect x="256" y="837" width="1" height="3" shape-rendering="crispEdges"/><text x="255.5" y="849" letter-spacing="-0.18">1 Oct 00:00</text>
<rect x="320" y="837" width="1" height="3" shape-rendering="crispEdges"/><text x="319.5" y="849" letter-spacing="-0.18">2 Oct 08:00</text>
<rect x="384" y="837" width="1" height="3" shape-rendering="crispEdges"/><text x="383.5" y="849" letter-spacing="-0.18">3 Oct 16:00</text>
<rect x="448" y="837" width="1" height="3" shape-rendering="crispEdges"/><text x="447.5" y="849" letter-spacing="-0.18">7 Oct 00:00</text>
<rect x="512" y="837" width="1" height="3" shape-rendering="crispEdges"/><text x="511.5" y="849" letter-spacing="-0.18">8 Oct 08:00</text>
<rect x="576" y="837" width="1" height="3" shape-rendering="crispEdges"/><text x="575.5" y="849" letter-spacing="-0.18">9 Oct 16:00</text>
<rect x="640" y="837" width="1" height="3" shape-rendering="crispEdges"/><text x="639.5" y="849" letter-spacing="-0.18">11 Oct 00:00</text>
<rect x="704" y="837" width="1" height="3" shape-rendering="crispEdges"/><text x="703.5" y="849" letter-spacing="-0.18">14 Oct 08:00</text>
<rect x="768" y="837" width="1" height="3" shape-rendering="crispEdges"/><text x="767.5" y="849" letter-spacing="-0.18">15 Oct 16:00</text>
<rect x="832" y="837" width="1" height="3" shape-rendering="crispEdges"/><text x="831.5" y="849" letter-spacing="-0.18">17 Oct 00:00</text>
<rect x="896" y="837" width="1" height="3" shape-rendering="crispEdges"/><text x="895.5" y="849" letter-spacing="-0.18">18 Oct 08:00</text>
<rect x="960" y="837" width="1" height="3" shape-rendering="crispEdges"/><text x="959.5" y="849" letter-spacing="-0.18">21 Oct 16:00</text>
<rect x="1024" y="837" width="1" height="3" shape-rendering="crispEdges"/><text x="1023.5" y="849" letter-spacing="-0.18">23 Oct 00:00</text>
<rect x="1088" y="837" width="1" height="3" shape-rendering="crispEdges"/><text x="1087.5" y="849" letter-spacing="-0.18">24 Oct 08:00</text>
<rect x="1152" y="837" width="1" height="3" shape-rendering="crispEdges"/><text x="1151.5" y="849" letter-spacing="-0.18">25 Oct 16:00</text>
<rect x="1216" y="837" width="1" height="3" shape-rendering="crispEdges"/><text x="1215.5" y="849" letter-spacing="-0.18">29 Oct 00:00</text>
<rect x="1280" y="837" width="1" height="3" shape-rendering="crispEdges"/><text x="1279.5" y="849" letter-spacing="-0.18">30 Oct 08:00</text>
<rect x="1344" y="837" width="1" height="3" shape-rendering="crispEdges"/><text x="1343.5" y="849" letter-spacing="-0.18">31 Oct 16:00</text>
</g>
<rect x="0" y="856" width="1666" height="2" fill="#e0e0e0"/>
</svg>
<div id="tb"><div class="b1"></div><div class="b2"></div>
<svg width="1666" height="23" viewBox="0 0 1666 23" style="position:absolute;left:0;top:0">
<defs><pattern id="chk" width="2" height="2" patternUnits="userSpaceOnUse"><rect width="2" height="2" fill="#ffffff"/><rect width="1" height="1" fill="#eeeeee"/><rect x="1" y="1" width="1" height="1" fill="#eeeeee"/></pattern><linearGradient id="gplus" x1="0" y1="0" x2="0" y2="1"><stop offset="0" stop-color="#7dff7d"/><stop offset="0.5" stop-color="#22d022"/><stop offset="1" stop-color="#0a8a0a"/></linearGradient><linearGradient id="ggold" x1="0" y1="0" x2="1" y2="1"><stop offset="0" stop-color="#ffe680"/><stop offset="0.5" stop-color="#e8b820"/><stop offset="1" stop-color="#b07808"/></linearGradient><linearGradient id="gblue" x1="0" y1="0" x2="0" y2="1"><stop offset="0" stop-color="#58b8ff"/><stop offset="1" stop-color="#1060d0"/></linearGradient><linearGradient id="ggrn" x1="0" y1="0" x2="0" y2="1"><stop offset="0" stop-color="#6ac040"/><stop offset="1" stop-color="#2a8a10"/></linearGradient><linearGradient id="gbl2" x1="0" y1="0" x2="0" y2="1"><stop offset="0" stop-color="#4a78e0"/><stop offset="1" stop-color="#1038b0"/></linearGradient><radialGradient id="glens" cx="0.4" cy="0.35" r="0.7"><stop offset="0" stop-color="#ffffff"/><stop offset="1" stop-color="#b8dcf8"/></radialGradient><linearGradient id="gcloud" x1="0" y1="0" x2="0" y2="1"><stop offset="0" stop-color="#ffffff"/><stop offset="1" stop-color="#b8c8e0"/></linearGradient><linearGradient id="gbub" x1="0" y1="0" x2="0.3" y2="1"><stop offset="0" stop-color="#ffffff"/><stop offset="0.6" stop-color="#f2f2f6"/><stop offset="1" stop-color="#d4d4e0"/></linearGradient><linearGradient id="gclk" x1="0" y1="0" x2="0" y2="1"><stop offset="0" stop-color="#3a8cf4"/><stop offset="0.5" stop-color="#1660d0"/><stop offset="1" stop-color="#0a3ea8"/></linearGradient><linearGradient id="gface" x1="0" y1="0" x2="1" y2="1"><stop offset="0" stop-color="#fff498"/><stop offset="1" stop-color="#f0b818"/></linearGradient></defs>
<rect x="262" y="0" width="25" height="22" fill="url(#chk)"/>
<rect x="414" y="0" width="24" height="22" fill="url(#chk)"/>
<rect x="442" y="0" width="24" height="22" fill="url(#chk)"/>
<rect x="602" y="0" width="24" height="22" fill="url(#chk)"/>
<rect x="1048" y="0" width="24" height="22" fill="url(#chk)"/>
<rect x="261" y="1" width="1" height="21" fill="#a0a0a0" shape-rendering="crispEdges"/>
<rect x="318" y="1" width="1" height="21" fill="#a0a0a0" shape-rendering="crispEdges"/>
<rect x="408" y="1" width="1" height="21" fill="#a0a0a0" shape-rendering="crispEdges"/>
<rect x="413" y="1" width="1" height="21" fill="#a0a0a0" shape-rendering="crispEdges"/>
<rect x="441" y="1" width="1" height="21" fill="#a0a0a0" shape-rendering="crispEdges"/>
<rect x="470" y="1" width="1" height="21" fill="#a0a0a0" shape-rendering="crispEdges"/>
<rect x="601" y="1" width="1" height="21" fill="#a0a0a0" shape-rendering="crispEdges"/>
<rect x="658" y="1" width="1" height="21" fill="#a0a0a0" shape-rendering="crispEdges"/>
<rect x="1047" y="1" width="1" height="21" fill="#a0a0a0" shape-rendering="crispEdges"/>
<rect x="223" y="0" width="1" height="23" fill="#a0a0a0" shape-rendering="crispEdges"/><rect x="224" y="0" width="1" height="23" fill="#fafafa" shape-rendering="crispEdges"/>
<rect x="591" y="0" width="1" height="23" fill="#a0a0a0" shape-rendering="crispEdges"/><rect x="592" y="0" width="1" height="23" fill="#fafafa" shape-rendering="crispEdges"/>
<rect x="897" y="0" width="1" height="23" fill="#a0a0a0" shape-rendering="crispEdges"/><rect x="898" y="0" width="1" height="23" fill="#fafafa" shape-rendering="crispEdges"/>
<rect x="1158" y="0" width="1" height="23" fill="#a0a0a0" shape-rendering="crispEdges"/><rect x="1159" y="0" width="1" height="23" fill="#fafafa" shape-rendering="crispEdges"/>
<rect x="227" y="1" width="3" height="1" fill="#b0b0b0" shape-rendering="crispEdges"/>
<rect x="227" y="3" width="3" height="1" fill="#b0b0b0" shape-rendering="crispEdges"/>
<rect x="227" y="5" width="3" height="1" fill="#b0b0b0" shape-rendering="crispEdges"/>
<rect x="227" y="7" width="3" height="1" fill="#b0b0b0" shape-rendering="crispEdges"/>
<rect x="227" y="9" width="3" height="1" fill="#b0b0b0" shape-rendering="crispEdges"/>
<rect x="227" y="11" width="3" height="1" fill="#b0b0b0" shape-rendering="crispEdges"/>
<rect x="227" y="13" width="3" height="1" fill="#b0b0b0" shape-rendering="crispEdges"/>
<rect x="227" y="15" width="3" height="1" fill="#b0b0b0" shape-rendering="crispEdges"/>
<rect x="227" y="17" width="3" height="1" fill="#b0b0b0" shape-rendering="crispEdges"/>
<rect x="227" y="19" width="3" height="1" fill="#b0b0b0" shape-rendering="crispEdges"/>
<rect x="595" y="1" width="3" height="1" fill="#b0b0b0" shape-rendering="crispEdges"/>
<rect x="595" y="3" width="3" height="1" fill="#b0b0b0" shape-rendering="crispEdges"/>
<rect x="595" y="5" width="3" height="1" fill="#b0b0b0" shape-rendering="crispEdges"/>
<rect x="595" y="7" width="3" height="1" fill="#b0b0b0" shape-rendering="crispEdges"/>
<rect x="595" y="9" width="3" height="1" fill="#b0b0b0" shape-rendering="crispEdges"/>
<rect x="595" y="11" width="3" height="1" fill="#b0b0b0" shape-rendering="crispEdges"/>
<rect x="595" y="13" width="3" height="1" fill="#b0b0b0" shape-rendering="crispEdges"/>
<rect x="595" y="15" width="3" height="1" fill="#b0b0b0" shape-rendering="crispEdges"/>
<rect x="595" y="17" width="3" height="1" fill="#b0b0b0" shape-rendering="crispEdges"/>
<rect x="595" y="19" width="3" height="1" fill="#b0b0b0" shape-rendering="crispEdges"/>
<rect x="901" y="1" width="3" height="1" fill="#b0b0b0" shape-rendering="crispEdges"/>
<rect x="901" y="3" width="3" height="1" fill="#b0b0b0" shape-rendering="crispEdges"/>
<rect x="901" y="5" width="3" height="1" fill="#b0b0b0" shape-rendering="crispEdges"/>
<rect x="901" y="7" width="3" height="1" fill="#b0b0b0" shape-rendering="crispEdges"/>
<rect x="901" y="9" width="3" height="1" fill="#b0b0b0" shape-rendering="crispEdges"/>
<rect x="901" y="11" width="3" height="1" fill="#b0b0b0" shape-rendering="crispEdges"/>
<rect x="901" y="13" width="3" height="1" fill="#b0b0b0" shape-rendering="crispEdges"/>
<rect x="901" y="15" width="3" height="1" fill="#b0b0b0" shape-rendering="crispEdges"/>
<rect x="901" y="17" width="3" height="1" fill="#b0b0b0" shape-rendering="crispEdges"/>
<rect x="901" y="19" width="3" height="1" fill="#b0b0b0" shape-rendering="crispEdges"/>
<path d="M-1,3.5 H6 L9.5,7 V15.5 H-1 Z" fill="#fafafa" stroke="#909090" stroke-width="1"/><path d="M6,3.5 V7 H9.5" fill="#e0e0e0" stroke="#909090" stroke-width="0.8"/><rect x="0" y="6" width="4" height="1" fill="#808080"/><rect x="0" y="9" width="4" height="1" fill="#808080"/><rect x="0" y="11" width="3" height="1" fill="#a0a0a0"/><path d="M5.4,9.5 h3.2 v3.9 h3.9 v3.2 h-3.9 v3.9 h-3.2 v-3.9 h-3.9 v-3.2 h3.9 z" fill="url(#gplus)" stroke="#0a8a0a" stroke-width="0.7"/>
<path d="M70,3.8 L79.2,10.2 L79.4,12.8 L72,18.8 L64,13.4 L64.3,12 L67.6,9 Z" fill="#b87c10"/><path d="M70.3,5 L78,10.4 L71.6,15.6 L65.6,11.9 L68.7,9 Z" fill="url(#ggold)"/><path d="M65,12.6 L71.7,16.7 L71.9,17.9 L64.8,13.5 Z" fill="#f0c850"/><path d="M72.3,16.4 L78.5,11.4 L78.7,12.6 L72.5,17.7 Z" fill="#e8dca8"/>
<path d="M94,4 L101.5,3 L105.6,5.6 L105.6,13 L97.6,13 L94,12 Z" fill="#0a98f8"/><path d="M94,4 L101.5,3 L105.6,5.6 L97.7,6.1 Z" fill="#3a8ee6"/><path d="M94.2,4.2 L97.7,6.1 L105.5,5.7 M97.7,6.1 V12.5" fill="none" stroke="#d8f2ff" stroke-width="0.7"/><rect x="99.5" y="7.7" width="4.6" height="0.9" fill="#c8ecff"/><path d="M95,18.6 C91.8,18.6 91.4,14.6 94.8,14.2 C95,11.8 98.6,11.2 100,12.9 C101.5,10.9 105,11.6 105.1,13.9 C108.6,13.6 108.8,18.6 105.5,18.6 Z" fill="url(#gcloud)" stroke="#4a68a8" stroke-width="0.9"/>
<path d="M128,11 L128.2,19 C133.5,19 136.3,14.5 135.3,9.5 C134.5,6 131.5,3.6 128,3.6 Z" fill="#9cc89c" opacity="0.55"/><g fill="none" stroke-linecap="round"><path d="M128,3.5 A7.5,7.5 0 0 0 123.8,17.2" stroke="#98b4e8" stroke-width="1"/><path d="M128,6 A5,5 0 0 0 125.2,15.2" stroke="#6890e0" stroke-width="1"/><path d="M128,3.5 A7.5,7.5 0 0 1 129,18.4" stroke="#88c088" stroke-width="1.1"/><path d="M128,6 A5,5 0 0 1 129,15.9" stroke="#70b070" stroke-width="1"/></g><circle cx="127.8" cy="10.6" r="1.8" fill="#2858d0"/><path d="M128.1,11 V18.6 H130" fill="none" stroke="#20a020" stroke-width="1.3"/>
<path d="M147.6,9 L162.8,9 L162.8,13 L155.5,18.8 L152.2,17.6 Z" fill="url(#gface)" stroke="#d8a818" stroke-width="0.6"/><ellipse cx="155.2" cy="7.8" rx="8" ry="2.7" fill="#4e9cdc" stroke="#3078b8" stroke-width="0.5"/><path d="M150.8,7.6 C150.4,2.2 160,2.2 159.6,7.6 C157,8.8 153.4,8.8 150.8,7.6 Z" fill="#7cc0ee" stroke="#3c88c8" stroke-width="0.5"/><path d="M152.5,5.2 C153.5,3.6 156,3.4 157,4.2" fill="none" stroke="#c8e8fc" stroke-width="0.9"/><circle cx="159.6" cy="14.6" r="4.1" fill="#e02810" stroke="#b41400" stroke-width="0.5"/><rect x="157.9" y="12.9" width="3.4" height="3.4" fill="#fff"/>
<g shape-rendering="crispEdges" fill="#505050"><rect x="241" y="6" width="1" height="13"/><rect x="239" y="16" width="13" height="1"/></g><path d="M239.5,7.5 L241.5,4.5 L243.5,7.5 Z M251,14.5 L254,16.5 L251,18.5 Z" fill="#505050"/>
<g shape-rendering="crispEdges" fill="#1a9a1a"><rect x="247" y="6" width="1" height="9"/><rect x="248" y="7" width="2" height="1"/><rect x="245" y="13" width="2" height="1"/></g>
<g shape-rendering="crispEdges" fill="#505050"><rect x="269" y="6" width="1" height="13"/><rect x="267" y="16" width="13" height="1"/></g><path d="M267.5,7.5 L269.5,4.5 L271.5,7.5 Z M279,14.5 L282,16.5 L279,18.5 Z" fill="#505050"/>
<g shape-rendering="crispEdges"><rect x="275" y="3" width="1" height="12" fill="#1a9a1a"/><rect x="273" y="5" width="5" height="8" fill="#22cc44" stroke="#0a8a1a" stroke-width="1"/></g>
<g shape-rendering="crispEdges" fill="#505050"><rect x="297" y="6" width="1" height="13"/><rect x="295" y="16" width="13" height="1"/></g><path d="M295.5,7.5 L297.5,4.5 L299.5,7.5 Z M307,14.5 L310,16.5 L307,18.5 Z" fill="#505050"/>
<path d="M296,14 C299,12 300,8 302,8 C304,8 305,12 308,12.5" fill="none" stroke="#2a9a2a" stroke-width="1.3"/>
<path d="M337,13 L342.5,18.5" stroke="#c8a020" stroke-width="3" stroke-linecap="round"/><path d="M337.5,13.5 L342.5,18.5" stroke="#f0d860" stroke-width="1.2" stroke-linecap="round"/><circle cx="333" cy="9" r="5.6" fill="url(#glens)" stroke="#3878d0" stroke-width="1.3"/><rect x="330" y="8.2" width="6" height="1.7" fill="#3888b8"/>
<rect x="332.15" y="6" width="1.7" height="6" fill="#3888b8"/>
<path d="M365,13 L370.5,18.5" stroke="#c8a020" stroke-width="3" stroke-linecap="round"/><path d="M365.5,13.5 L370.5,18.5" stroke="#f0d860" stroke-width="1.2" stroke-linecap="round"/><circle cx="361" cy="9" r="5.6" fill="url(#glens)" stroke="#3878d0" stroke-width="1.3"/><rect x="358" y="8.2" width="6" height="1.7" fill="#3888b8"/>
<rect x="383" y="3" width="8" height="8" fill="url(#ggrn)"/><path d="M384.5,9.5 v-3 h5 v3 M384.5,8 h5" fill="none" stroke="#fff" stroke-width="0.9" opacity="0.9"/>
<rect x="391.5" y="3" width="8" height="8" fill="url(#gbl2)"/><path d="M393.0,9.5 v-3 h5 v3 M393.0,8 h5" fill="none" stroke="#fff" stroke-width="0.9" opacity="0.9"/>
<rect x="383" y="11.5" width="8" height="8" fill="url(#gbl2)"/><path d="M384.5,18.0 v-3 h5 v3 M384.5,16.5 h5" fill="none" stroke="#fff" stroke-width="0.9" opacity="0.9"/>
<rect x="391.5" y="11.5" width="8" height="8" fill="url(#ggrn)"/><path d="M393.0,18.0 v-3 h5 v3 M393.0,16.5 h5" fill="none" stroke="#fff" stroke-width="0.9" opacity="0.9"/>
<g shape-rendering="crispEdges" fill="#505050"><rect x="421" y="6" width="1" height="13"/><rect x="419" y="16" width="13" height="1"/></g><path d="M419.5,7.5 L421.5,4.5 L423.5,7.5 Z M431,14.5 L434,16.5 L431,18.5 Z" fill="#505050"/>
<path d="M426.5,7 L431,10.5 L426.5,14 Z" fill="#5ad85a" stroke="#109010" stroke-width="1"/>
<g shape-rendering="crispEdges" fill="#505050"><rect x="449" y="6" width="1" height="13"/><rect x="447" y="16" width="13" height="1"/></g><path d="M447.5,7.5 L449.5,4.5 L451.5,7.5 Z M459,14.5 L462,16.5 L459,18.5 Z" fill="#505050"/>
<rect x="455" y="5" width="1.3" height="10" fill="#1870b0"/><path d="M457,10.5 L460.5,8 V9.8 H462.5 V11.2 H460.5 V13 Z" fill="#e04810"/>
<path d="M480.5,3.5 H488.5 L491.5,6.5 V16.5 H480.5 Z" fill="#fcfcfc" stroke="#a0a0a0" stroke-width="0.9"/><path d="M488.5,3.5 V6.5 H491.5" fill="#e8e8e8" stroke="#a0a0a0" stroke-width="0.7"/><path d="M485.5,6 c-2,0 -1,3.5 -2.5,3.5 c1.5,0 0.5,3.5 2.5,3.5" fill="none" stroke="#505050" stroke-width="0.9"/><path d="M488.4,9.3 h3.2 v3.9 h3.9 v3.2 h-3.9 v3.9 h-3.2 v-3.9 h-3.9 v-3.2 h3.9 z" fill="url(#gplus)" stroke="#0a8a0a" stroke-width="0.7"/>
<path d="M501.5,10 h6 l-3,3.5 z" fill="#000"/>
<circle cx="526" cy="10.8" r="7.8" fill="url(#gclk)"/><circle cx="526" cy="10.8" r="7.1" fill="none" stroke="#58a8f8" stroke-width="0.7" opacity="0.8"/><circle cx="526" cy="10.8" r="5" fill="#eef6ff"/><g fill="#8098c0"><rect x="525.6" y="6.4" width="0.8" height="0.8"/><rect x="525.6" y="14.4" width="0.8" height="0.8"/><rect x="521.6" y="10.4" width="0.8" height="0.8"/><rect x="529.6" y="10.4" width="0.8" height="0.8"/></g><path d="M526.2,7.4 V11 H529.2" fill="none" stroke="#202020" stroke-width="1.1"/>
<path d="M540.5,10 h6 l-3,3.5 z" fill="#000"/>
<rect x="557.5" y="4.5" width="15" height="13" fill="#fff" stroke="#2868c0" stroke-width="1.2"/><rect x="558" y="4.5" width="14" height="1.8" fill="#5090e0"/><rect x="558" y="11" width="14" height="1" fill="#2868c0"/><path d="M559.5,9.5 l2,-1 l2,0.5 l2,-1.5 l2,1 l2.5,-1" fill="none" stroke="#b02010" stroke-width="0.9"/><path d="M559.5,15.5 l2,-1 l2,0.5 l2.5,-2 l2,2 l1.5,0" fill="none" stroke="#109030" stroke-width="0.9"/>
<path d="M579.5,10 h6 l-3,3.5 z" fill="#000"/>
<path d="M609,3.5 L609,15 L611.8,12.6 L614.3,18.4 L616.3,17.5 L613.8,11.8 L617.3,11.5 Z" fill="#404040"/>
<g shape-rendering="crispEdges" fill="#505050"><rect x="641" y="4" width="1" height="6"/><rect x="641" y="13" width="1" height="6"/><rect x="634" y="11" width="6" height="1"/><rect x="643" y="11" width="6" height="1"/><rect x="641" y="11" width="1" height="1" fill="#909090"/></g>
<g shape-rendering="crispEdges" fill="#505050"><rect x="675" y="5" width="1" height="13"/><rect x="698" y="11" width="12" height="1"/></g>
<path d="M725.8,18 L738.2,5.6" stroke="#505050" stroke-width="1.1"/>
<g stroke="#505050" stroke-width="1" fill="none"><path d="M752,12.5 L760,5"/><path d="M756.5,18 L766,9.5"/><path d="M754,15 L757,8.5 L759,13 L761,5.5 L763,11 L764.5,3.5" stroke-width="0.9"/></g>
<text x="762.5" y="19.8" font-family="Liberation Sans, sans-serif" font-weight="bold" font-size="6.5" fill="#404040">E</text>
<g stroke="#606060" stroke-width="1" stroke-dasharray="1,1" shape-rendering="crispEdges"><path d="M781,4.5 H794"/><path d="M781,7.5 H794"/><path d="M781,11.5 H794"/><path d="M781,15.5 H790"/></g>
<text x="790.8" y="19.8" font-family="Liberation Sans, sans-serif" font-weight="bold" font-size="6.5" fill="#404040">F</text>
<text x="811.3" y="16" font-family="Liberation Sans, sans-serif" font-size="12.5" fill="#505050" stroke="#505050" stroke-width="0.3">A</text>
<rect x="838.5" y="5.5" width="11" height="12" fill="none" stroke="#505050" stroke-width="1" stroke-dasharray="1,1" shape-rendering="crispEdges"/><rect x="837.5" y="4.3" width="2" height="1.4" fill="#404040"/><text x="839.7" y="15.7" font-family="Liberation Sans, sans-serif" font-weight="bold" font-size="11.5" fill="#505050">T</text>
<path d="M865.5,8.8 L868.7,5 L872,8.8 Z M867,9.6 h3.5 v0.8 h-3.5 z" fill="#404040"/><path d="M868.5,12 L870.5,14 L874.5,9.5" fill="none" stroke="#404040" stroke-width="1.2"/><path d="M872,13.8 h6.8 L875.4,17.8 Z M873.7,12.5 h3.5 v0.8 h-3.5 z" fill="#404040"/>
<path d="M885.5,10 h6 l-3,3.5 z" fill="#000"/>
<path d="M1625.6,11.4 L1621.3,15.4" stroke="#1848c0" stroke-width="2.7" stroke-linecap="round"/><circle cx="1628.5" cy="8.5" r="3.7" fill="#fafcff" stroke="#2060d8" stroke-width="1.1"/>
<path d="M1663,12.4 L1664.4,15 L1665.3,12 Z" fill="#707078"/><ellipse cx="1661.2" cy="7.9" rx="6.8" ry="4.7" fill="url(#gbub)" stroke="#9a9aa0" stroke-width="0.9"/><path d="M1649,15.4 L1649.6,18 L1651.6,15.6 Z" fill="#606068"/><ellipse cx="1652.3" cy="12.1" rx="5" ry="3.9" fill="url(#gbub)" stroke="#8c8c92" stroke-width="0.9"/>
</svg>
<div class="tt" style="left:16px">新订单</div>
<div class="tt" style="left:168.5px;letter-spacing:-0.35px">自动交易</div>
<div class="tf" style="left:912.3px">M1</div>
<div class="tf" style="left:940.2px">M5</div>
<div class="tf" style="left:966.5px">M15</div>
<div class="tf" style="left:994.5px">M30</div>
<div class="tf" style="left:1025.5px">H1</div>
<div class="tf" style="left:1052.7px">H4</div>
<div class="tf" style="left:1081.5px">D1</div>
<div class="tf" style="left:1109px">W1</div>
<div class="tf" style="left:1136px">MN</div>
</div>
<div id="oc">
<svg width="10" height="6" style="position:absolute;left:2px;top:0px"><path d="M0,5 L3.5,0.8 L7,5 Z" fill="#000"/></svg>
<div class="ttl">GBPUSD-,H4  1.29466 1.29490 1.29258 1.29344</div>
<svg width="223" height="79" viewBox="1 33 223 79" style="position:absolute;left:0;top:0" font-family="Liberation Sans, sans-serif">
<defs><linearGradient id="gr1" x1="0" y1="0" x2="0" y2="1"><stop offset="0" stop-color="#f85a5a"/><stop offset="1" stop-color="#dc3030"/></linearGradient><linearGradient id="gr2" x1="0" y1="0" x2="0" y2="1"><stop offset="0" stop-color="#d83030"/><stop offset="1" stop-color="#b00000"/></linearGradient><linearGradient id="gsp" x1="0" y1="0" x2="0" y2="1"><stop offset="0" stop-color="#f8f8f8"/><stop offset="1" stop-color="#dcdcdc"/></linearGradient></defs>
<rect x="3.5" y="47.5" width="50.5" height="24" fill="url(#gr1)" stroke="#c41818" stroke-width="1"/>
<rect x="3" y="71" width="109" height="40" fill="url(#gr2)"/>
<rect x="7" y="70.5" width="44" height="1" fill="#b82020" opacity="0.8"/>
<rect x="171" y="47.5" width="50.5" height="24" fill="url(#gr1)" stroke="#c41818" stroke-width="1"/>
<rect x="114.3" y="71" width="107.7" height="40" fill="url(#gr2)"/>
<rect x="174" y="70.5" width="44" height="1" fill="#b82020" opacity="0.8"/>
<rect x="57.5" y="47.5" width="110" height="21" fill="#fff" stroke="#b0b0b0" stroke-width="1"/>
<rect x="58" y="48" width="20.5" height="20" fill="url(#gsp)"/><rect x="78.5" y="48" width="1" height="20" fill="#b0b0b0"/>
<rect x="146.7" y="48" width="20.3" height="20" fill="url(#gsp)"/><rect x="146" y="48" width="1" height="20" fill="#b0b0b0"/>
<path d="M65,56.5 h5 l-2.5,3 z" fill="#000"/><path d="M154,59 h5 l-2.5,-3 z" fill="#000"/>
<text x="142.8" y="61.8" text-anchor="end" font-size="12" fill="#000" letter-spacing="-0.2">1.00</text>
<text x="15" y="63" font-size="12" fill="#fff" letter-spacing="-0.7">SELL</text>
<text x="183.2" y="63" font-size="12" fill="#fff" letter-spacing="-0.4">BUY</text>
<text x="23.5" y="101.8" font-size="12" font-weight="bold" fill="#fff">1.29</text>
<text x="50" y="103" font-size="35" fill="#fff" letter-spacing="-3">34</text>
<text x="89.8" y="86.3" font-size="12" font-weight="bold" fill="#fff">4</text>
<text x="133.5" y="101.8" font-size="12" font-weight="bold" fill="#fff">1.29</text>
<text x="160.5" y="103" font-size="35" fill="#fff" letter-spacing="-3">37</text>
<text x="200.5" y="86.3" font-size="12" font-weight="bold" fill="#fff">2</text>
</svg>
</div>
</body></html>
